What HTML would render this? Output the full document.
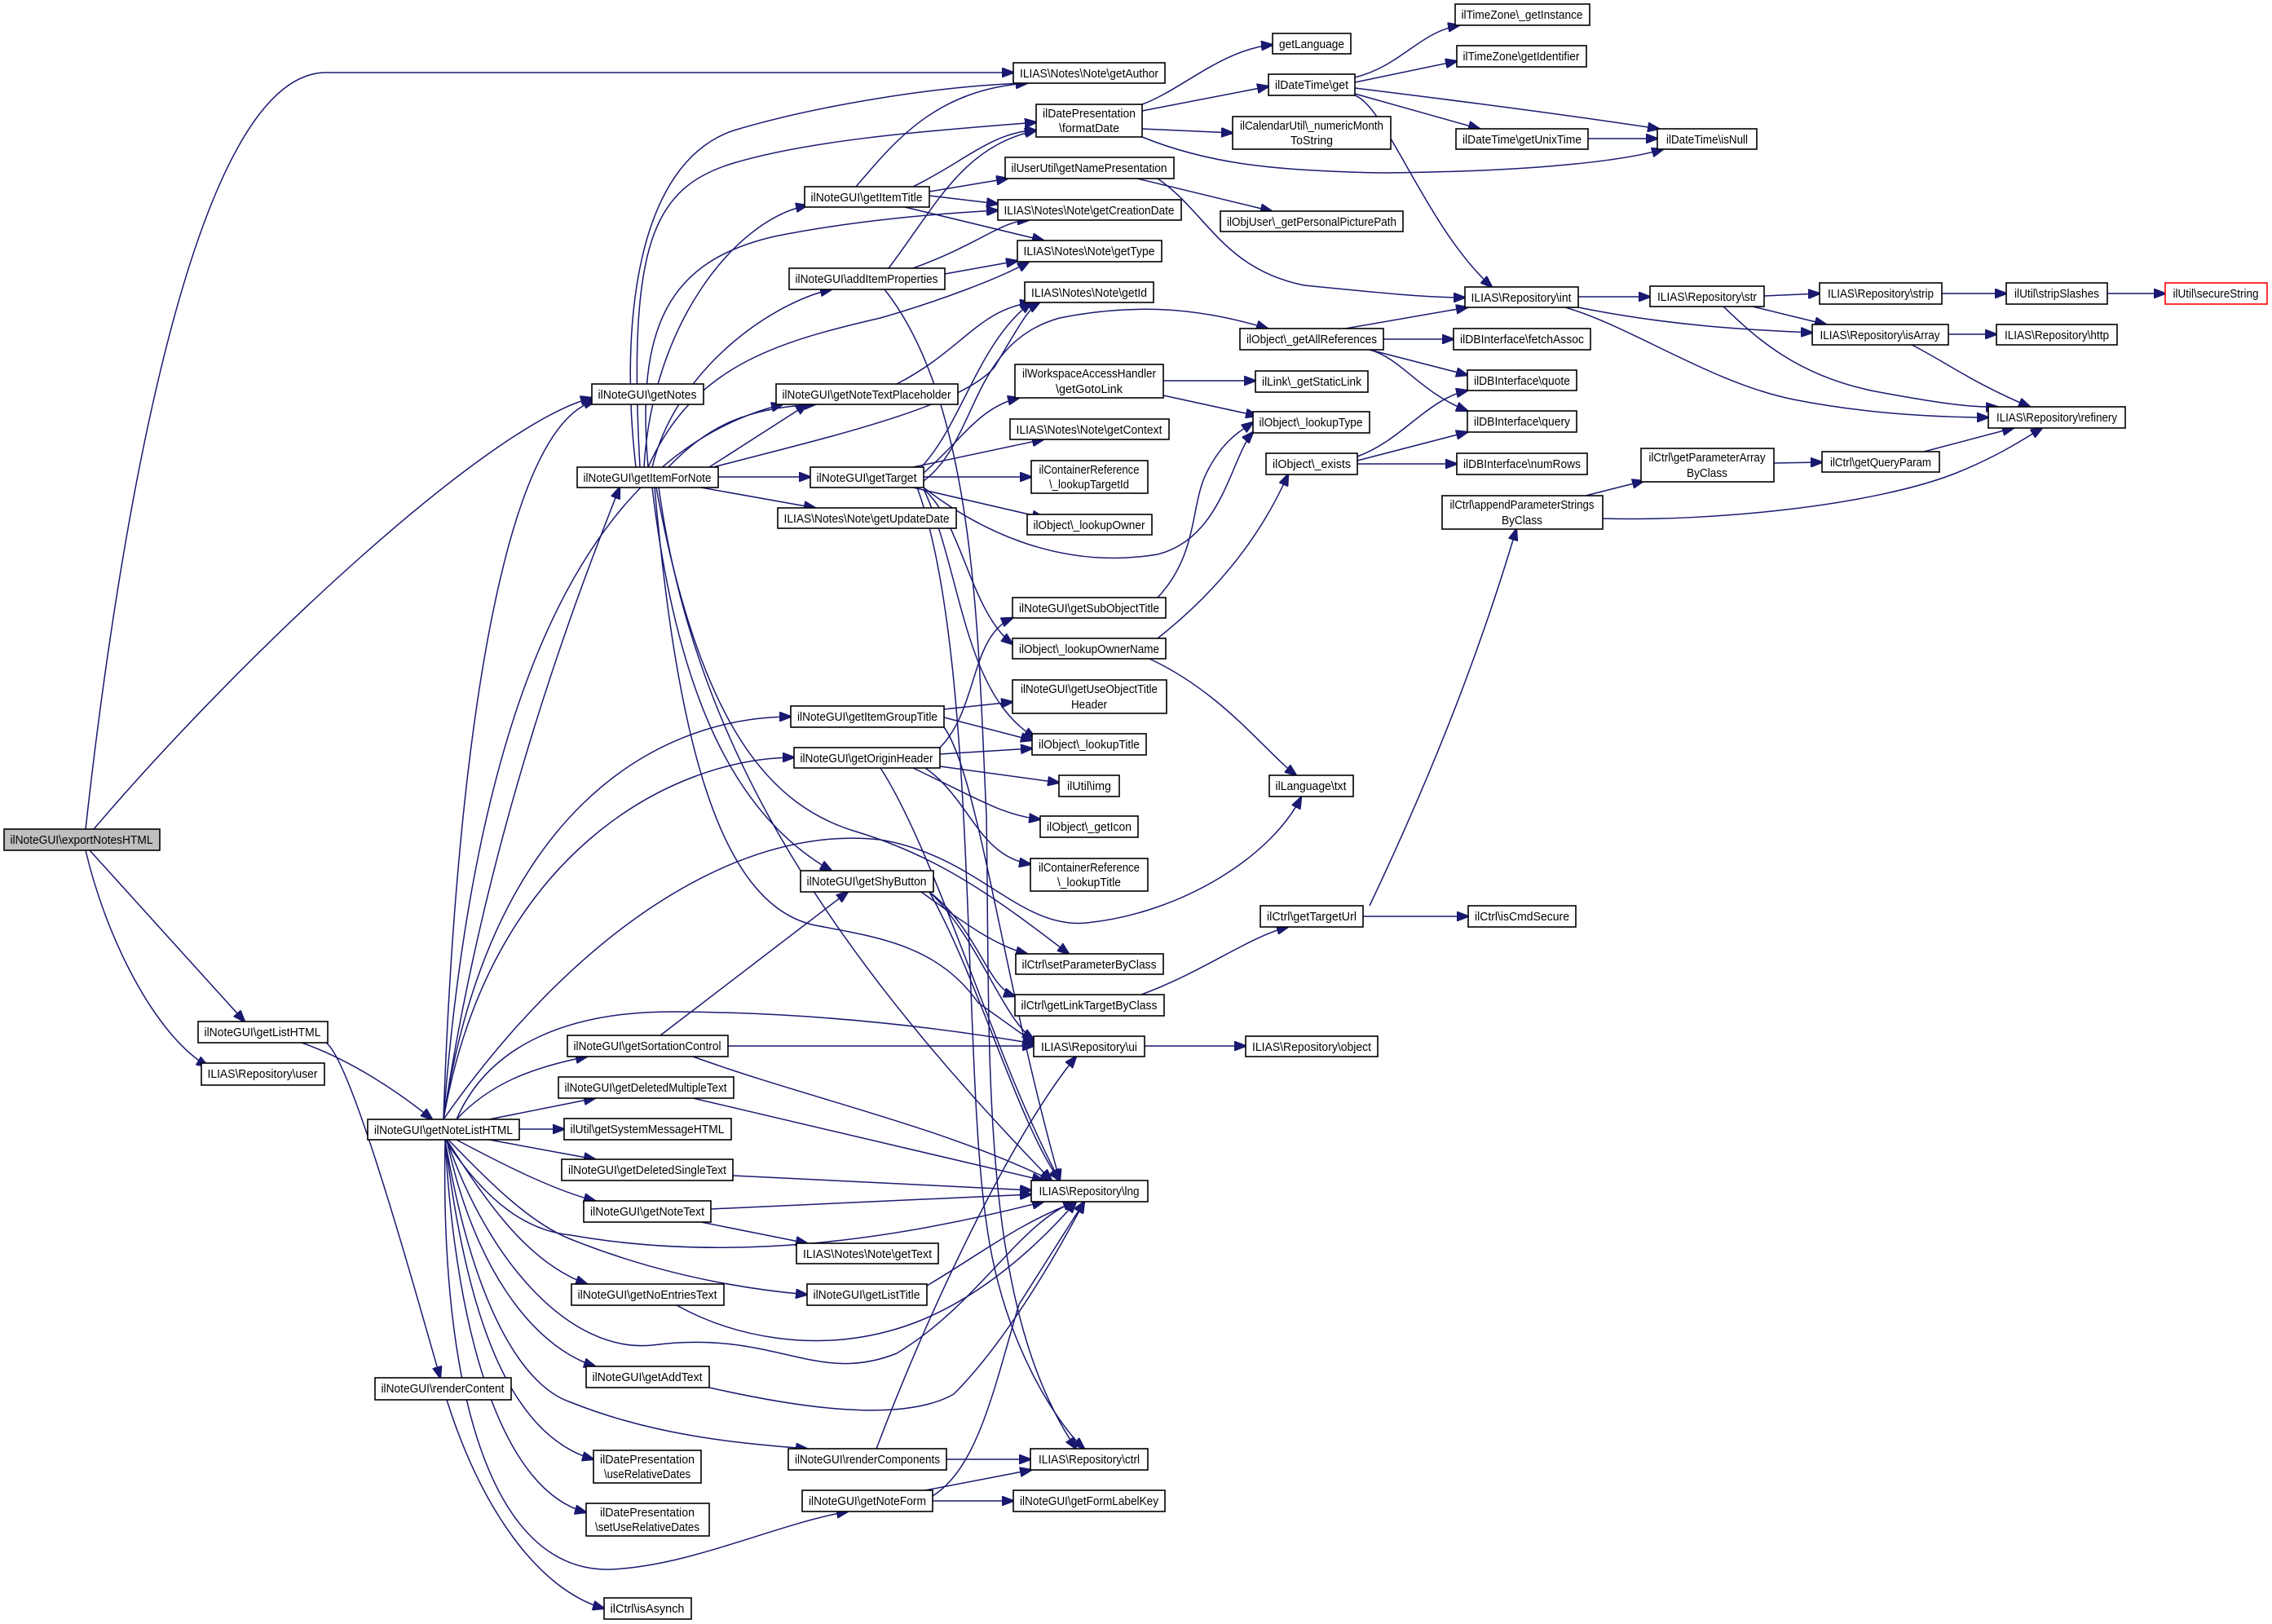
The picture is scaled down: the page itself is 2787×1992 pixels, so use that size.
<!DOCTYPE html>
<html><head><meta charset="utf-8"><style>
html,body{margin:0;padding:0;background:#fff;}
svg{display:block;}
text{font-family:"Liberation Sans",sans-serif;font-size:15px;fill:#000;}
rect{fill:#fff;stroke:#000;stroke-width:1.6;}
path{fill:none;stroke:#191970;stroke-width:1.5;}
</style></head><body>
<svg width="2787" height="1992" viewBox="0 0 2787 1992" xmlns="http://www.w3.org/2000/svg">
<defs><marker id="a" markerWidth="16" markerHeight="12" refX="14" refY="6" orient="auto" markerUnits="userSpaceOnUse"><path d="M0,0 L16,6 L0,12 Z" style="fill:#191970;stroke:#191970;stroke-width:1"/></marker></defs>
<g marker-end="url(#a)">
<path d="M105,1017 C140,700 230,89 400,89 L1243,89"/>
<path d="M115,1017 C300,800 600,520 726,488"/>
<path d="M110,1043 L300,1253"/>
<path d="M105,1043 C130,1150 190,1270 255,1308"/>
<path d="M370,1279 C430,1300 490,1340 530,1373"/>
<path d="M400,1279 C430,1300 500,1550 540,1690"/>
<path d="M548,1717 C590,1850 660,1950 741,1973"/>
<path d="M544,1373 C560,900 620,520 730,492"/>
<path d="M544,1373 C600,1000 720,700 760,598"/>
<path d="M544,1373 C600,1000 800,880 970,879"/>
<path d="M544,1373 C600,1050 820,930 974,929"/>
<path d="M544,1373 C700,1150 900,1010 1080,1030 C1200,1050 1250,1140 1333,1132 C1450,1120 1560,1050 1596,978"/>
<path d="M560,1373 C600,1280 700,1240 829,1241 C1000,1242 1150,1260 1268,1280"/>
<path d="M560,1373 C600,1330 650,1310 720,1296"/>
<path d="M600,1373 L730,1347"/>
<path d="M637,1385 L692,1385"/>
<path d="M600,1398 L730,1422"/>
<path d="M560,1398 C620,1430 680,1460 730,1473"/>
<path d="M550,1398 C600,1450 650,1500 700,1520 C800,1560 900,1580 990,1588"/>
<path d="M548,1398 C600,1480 650,1550 720,1575"/>
<path d="M548,1398 C600,1550 700,1660 800,1650 C950,1630 1000,1700 1100,1660 C1200,1600 1250,1500 1318,1474"/>
<path d="M546,1398 C600,1480 650,1510 700,1515 C900,1550 1100,1520 1280,1474"/>
<path d="M548,1398 C580,1550 650,1650 730,1676"/>
<path d="M546,1398 C570,1600 620,1760 728,1790"/>
<path d="M546,1398 C560,1650 620,1830 719,1855"/>
<path d="M546,1398 C540,1700 600,1930 750,1925 C850,1920 950,1870 1040,1854"/>
<path d="M546,1398 C580,1600 640,1700 700,1720 C800,1760 900,1770 990,1777"/>
<path d="M544,1373 C580,900 700,560 960,496"/>
<path d="M780,573 C760,400 780,200 900,160 C1000,130 1150,105 1260,102"/>
<path d="M785,573 C770,300 800,230 900,200 C1000,170 1150,160 1271,150"/>
<path d="M790,573 C800,400 900,270 990,252"/>
<path d="M800,573 C830,450 950,370 1020,355"/>
<path d="M795,573 C780,400 820,320 950,290 C1050,270 1150,262 1224,258"/>
<path d="M795,573 C850,450 950,420 1080,390 C1150,370 1230,340 1262,321"/>
<path d="M870,573 L990,496"/>
<path d="M820,573 C870,520 920,500 1000,496"/>
<path d="M881,585 L994,585"/>
<path d="M860,598 L1000,623"/>
<path d="M875,573 C1000,540 1180,500 1220,450 C1250,400 1260,380 1275,371"/>
<path d="M800,598 C830,850 900,1000 1020,1068"/>
<path d="M805,598 C860,900 950,990 1050,1020 C1150,1050 1220,1100 1311,1170"/>
<path d="M803,598 C830,900 880,1110 1000,1135 C1080,1150 1150,1160 1200,1230 L1270,1280"/>
<path d="M808,598 C850,900 1000,1150 1290,1448"/>
<path d="M1050,229 C1100,170 1150,110 1260,102"/>
<path d="M1120,229 C1180,200 1220,160 1271,160"/>
<path d="M1140,235 L1236,219"/>
<path d="M1140,240 L1224,250"/>
<path d="M1110,254 L1280,295"/>
<path d="M1090,329 C1150,250 1180,180 1271,160"/>
<path d="M1120,329 C1200,300 1230,270 1262,270"/>
<path d="M1159,336 L1248,320"/>
<path d="M1085,355 C1200,500 1200,800 1210,1000 C1215,1300 1200,1600 1320,1777"/>
<path d="M1395,219 L1560,259"/>
<path d="M1420,219 C1480,260 1500,330 1600,350 C1700,360 1750,365 1797,365"/>
<path d="M1401,128 C1450,110 1500,60 1561,55"/>
<path d="M1401,136 L1556,106"/>
<path d="M1401,158 L1512,163"/>
<path d="M1401,168 C1480,200 1560,210 1700,212 C1900,210 2000,195 2040,183"/>
<path d="M1662,95 C1720,80 1740,40 1790,31"/>
<path d="M1662,101 L1787,75"/>
<path d="M1662,115 L1815,158"/>
<path d="M1662,108 C1800,125 1950,145 2035,158"/>
<path d="M1662,117 C1700,130 1750,280 1830,352"/>
<path d="M1948,170 L2033,170"/>
<path d="M1936,364 L2024,364"/>
<path d="M1936,377 C2050,400 2150,405 2223,408"/>
<path d="M1920,377 C2000,400 2100,470 2200,490 C2300,510 2400,512 2439,512"/>
<path d="M2164,363 L2232,360"/>
<path d="M2150,376 L2240,398"/>
<path d="M2114,376 C2150,410 2200,460 2300,480 C2380,495 2420,500 2450,499"/>
<path d="M2382,360 L2461,360"/>
<path d="M2585,360 L2656,360"/>
<path d="M2390,410 L2449,410"/>
<path d="M2345,423 C2380,440 2420,470 2490,499"/>
<path d="M1650,403 L1800,377"/>
<path d="M1697,416 L1783,416"/>
<path d="M1680,429 L1800,460"/>
<path d="M1680,429 C1720,440 1740,480 1800,504"/>
<path d="M1665,560 C1720,540 1750,490 1800,479"/>
<path d="M1665,565 L1800,530"/>
<path d="M1665,569 L1787,569"/>
<path d="M2176,568 L2235,567"/>
<path d="M2360,554 L2470,525"/>
<path d="M1945,608 L2016,590"/>
<path d="M1966,636 C2100,640 2300,620 2400,580 C2450,560 2480,540 2505,525"/>
<path d="M1680,1111 C1780,900 1830,750 1860,649"/>
<path d="M1672,1124 L1801,1124"/>
<path d="M1400,1220 C1480,1190 1530,1150 1580,1137"/>
<path d="M1404,1283 L1528,1283"/>
<path d="M1420,733 C1470,680 1460,620 1480,580 C1500,540 1520,530 1537,518"/>
<path d="M1420,783 C1500,720 1550,650 1580,582"/>
<path d="M1410,808 C1500,850 1550,920 1590,951"/>
<path d="M1427,467 L1540,467"/>
<path d="M1427,485 L1542,510"/>
<path d="M1130,573 C1180,520 1200,420 1265,371"/>
<path d="M1133,590 C1200,540 1190,420 1300,390 C1400,370 1480,380 1555,403"/>
<path d="M1133,580 C1180,540 1200,500 1250,488"/>
<path d="M1120,573 L1280,539"/>
<path d="M1133,585 L1265,585"/>
<path d="M1120,598 L1280,635"/>
<path d="M1133,598 C1200,650 1300,700 1420,680 C1500,660 1510,560 1537,530"/>
<path d="M1153,917 C1200,870 1190,780 1242,758"/>
<path d="M1133,600 C1180,640 1190,750 1242,790"/>
<path d="M1133,600 C1180,700 1180,850 1270,905"/>
<path d="M1125,598 C1200,800 1180,1300 1210,1500 C1230,1650 1300,1750 1330,1777"/>
<path d="M1100,471 C1180,430 1200,380 1265,371"/>
<path d="M1158,870 L1242,861"/>
<path d="M1158,880 L1266,908"/>
<path d="M1158,892 C1200,950 1230,1200 1300,1448"/>
<path d="M1153,925 L1266,918"/>
<path d="M1153,940 L1299,960"/>
<path d="M1120,942 C1200,980 1230,1000 1276,1005"/>
<path d="M1135,942 C1190,980 1200,1050 1264,1060"/>
<path d="M1080,942 C1150,1050 1220,1300 1300,1448"/>
<path d="M1130,1094 C1180,1130 1220,1160 1260,1170"/>
<path d="M1140,1094 C1200,1140 1210,1210 1245,1222"/>
<path d="M1140,1094 C1200,1150 1230,1250 1268,1275"/>
<path d="M1140,1094 C1200,1200 1250,1380 1300,1448"/>
<path d="M810,1270 L1040,1094"/>
<path d="M893,1283 L1268,1283"/>
<path d="M850,1296 C1000,1350 1150,1380 1290,1448"/>
<path d="M850,1347 L1280,1448"/>
<path d="M899,1442 L1265,1460"/>
<path d="M872,1483 L1265,1465"/>
<path d="M860,1499 L990,1525"/>
<path d="M1137,1577 C1200,1540 1250,1500 1320,1474"/>
<path d="M830,1601 C900,1640 1000,1660 1100,1630 C1200,1600 1280,1520 1320,1474"/>
<path d="M870,1702 C950,1720 1100,1750 1170,1710 C1230,1650 1290,1550 1330,1474"/>
<path d="M1075,1777 C1150,1580 1250,1380 1320,1296"/>
<path d="M1161,1790 L1264,1790"/>
<path d="M1135,1828 L1265,1803"/>
<path d="M1144,1841 L1243,1841"/>
<path d="M1144,1835 C1200,1800 1220,1700 1250,1600 L1330,1474"/>
</g>
<g text-anchor="middle" lengthAdjust="spacingAndGlyphs">
<rect x="5" y="1017" width="191" height="26" style="fill:#bfbfbf"/><text x="100" y="1035" textLength="175" lengthAdjust="spacingAndGlyphs">ilNoteGUI\exportNotesHTML</text>
<rect x="243" y="1253" width="159" height="26"/><text x="322" y="1271" textLength="143" lengthAdjust="spacingAndGlyphs">ilNoteGUI\getListHTML</text>
<rect x="247" y="1304" width="151" height="27"/><text x="322" y="1322" textLength="135" lengthAdjust="spacingAndGlyphs">ILIAS\Repository\user</text>
<rect x="451" y="1373" width="186" height="25"/><text x="544" y="1391" textLength="170" lengthAdjust="spacingAndGlyphs">ilNoteGUI\getNoteListHTML</text>
<rect x="460" y="1690" width="167" height="27"/><text x="543" y="1708" textLength="151" lengthAdjust="spacingAndGlyphs">ilNoteGUI\renderContent</text>
<rect x="741" y="1960" width="107" height="26"/><text x="794" y="1978" textLength="91" lengthAdjust="spacingAndGlyphs">ilCtrl\isAsynch</text>
<rect x="696" y="1270" width="197" height="26"/><text x="794" y="1288" textLength="181" lengthAdjust="spacingAndGlyphs">ilNoteGUI\getSortationControl</text>
<rect x="685" y="1321" width="215" height="26"/><text x="792" y="1339" textLength="199" lengthAdjust="spacingAndGlyphs">ilNoteGUI\getDeletedMultipleText</text>
<rect x="692" y="1372" width="205" height="26"/><text x="794" y="1390" textLength="189" lengthAdjust="spacingAndGlyphs">ilUtil\getSystemMessageHTML</text>
<rect x="689" y="1422" width="210" height="26"/><text x="794" y="1440" textLength="194" lengthAdjust="spacingAndGlyphs">ilNoteGUI\getDeletedSingleText</text>
<rect x="716" y="1473" width="156" height="26"/><text x="794" y="1491" textLength="140" lengthAdjust="spacingAndGlyphs">ilNoteGUI\getNoteText</text>
<rect x="701" y="1575" width="187" height="26"/><text x="794" y="1593" textLength="171" lengthAdjust="spacingAndGlyphs">ilNoteGUI\getNoEntriesText</text>
<rect x="719" y="1676" width="151" height="26"/><text x="794" y="1694" textLength="135" lengthAdjust="spacingAndGlyphs">ilNoteGUI\getAddText</text>
<rect x="728" y="1779" width="132" height="40"/><text x="794" y="1795" textLength="116" lengthAdjust="spacingAndGlyphs">ilDatePresentation</text><text x="794" y="1813" textLength="106" lengthAdjust="spacingAndGlyphs">\useRelativeDates</text>
<rect x="719" y="1844" width="151" height="40"/><text x="794" y="1860" textLength="116" lengthAdjust="spacingAndGlyphs">ilDatePresentation</text><text x="794" y="1878" textLength="128" lengthAdjust="spacingAndGlyphs">\setUseRelativeDates</text>
<rect x="726" y="471" width="137" height="25"/><text x="794" y="489" textLength="121" lengthAdjust="spacingAndGlyphs">ilNoteGUI\getNotes</text>
<rect x="708" y="573" width="173" height="25"/><text x="794" y="591" textLength="157" lengthAdjust="spacingAndGlyphs">ilNoteGUI\getItemForNote</text>
<rect x="987" y="229" width="153" height="25"/><text x="1063" y="247" textLength="137" lengthAdjust="spacingAndGlyphs">ilNoteGUI\getItemTitle</text>
<rect x="968" y="329" width="191" height="26"/><text x="1063" y="347" textLength="175" lengthAdjust="spacingAndGlyphs">ilNoteGUI\addItemProperties</text>
<rect x="952" y="471" width="223" height="25"/><text x="1063" y="489" textLength="207" lengthAdjust="spacingAndGlyphs">ilNoteGUI\getNoteTextPlaceholder</text>
<rect x="994" y="573" width="139" height="25"/><text x="1063" y="591" textLength="123" lengthAdjust="spacingAndGlyphs">ilNoteGUI\getTarget</text>
<rect x="954" y="623" width="219" height="25"/><text x="1063" y="641" textLength="203" lengthAdjust="spacingAndGlyphs">ILIAS\Notes\Note\getUpdateDate</text>
<rect x="970" y="866" width="188" height="26"/><text x="1064" y="884" textLength="172" lengthAdjust="spacingAndGlyphs">ilNoteGUI\getItemGroupTitle</text>
<rect x="974" y="917" width="179" height="25"/><text x="1063" y="935" textLength="163" lengthAdjust="spacingAndGlyphs">ilNoteGUI\getOriginHeader</text>
<rect x="982" y="1068" width="163" height="26"/><text x="1063" y="1086" textLength="147" lengthAdjust="spacingAndGlyphs">ilNoteGUI\getShyButton</text>
<rect x="977" y="1525" width="174" height="25"/><text x="1064" y="1543" textLength="158" lengthAdjust="spacingAndGlyphs">ILIAS\Notes\Note\getText</text>
<rect x="990" y="1575" width="147" height="26"/><text x="1063" y="1593" textLength="131" lengthAdjust="spacingAndGlyphs">ilNoteGUI\getListTitle</text>
<rect x="967" y="1777" width="194" height="26"/><text x="1064" y="1795" textLength="178" lengthAdjust="spacingAndGlyphs">ilNoteGUI\renderComponents</text>
<rect x="984" y="1828" width="160" height="26"/><text x="1064" y="1846" textLength="144" lengthAdjust="spacingAndGlyphs">ilNoteGUI\getNoteForm</text>
<rect x="1243" y="77" width="186" height="25"/><text x="1336" y="95" textLength="170" lengthAdjust="spacingAndGlyphs">ILIAS\Notes\Note\getAuthor</text>
<rect x="1271" y="128" width="130" height="40"/><text x="1336" y="144" textLength="114" lengthAdjust="spacingAndGlyphs">ilDatePresentation</text><text x="1336" y="162" textLength="74" lengthAdjust="spacingAndGlyphs">\formatDate</text>
<rect x="1233" y="193" width="207" height="26"/><text x="1336" y="211" textLength="191" lengthAdjust="spacingAndGlyphs">ilUserUtil\getNamePresentation</text>
<rect x="1224" y="245" width="225" height="25"/><text x="1336" y="263" textLength="209" lengthAdjust="spacingAndGlyphs">ILIAS\Notes\Note\getCreationDate</text>
<rect x="1248" y="295" width="177" height="26"/><text x="1336" y="313" textLength="161" lengthAdjust="spacingAndGlyphs">ILIAS\Notes\Note\getType</text>
<rect x="1257" y="346" width="158" height="25"/><text x="1336" y="364" textLength="142" lengthAdjust="spacingAndGlyphs">ILIAS\Notes\Note\getId</text>
<rect x="1245" y="447" width="182" height="41"/><text x="1336" y="463" textLength="164" lengthAdjust="spacingAndGlyphs">ilWorkspaceAccessHandler</text><text x="1336" y="482" textLength="82" lengthAdjust="spacingAndGlyphs">\getGotoLink</text>
<rect x="1239" y="514" width="195" height="25"/><text x="1336" y="532" textLength="179" lengthAdjust="spacingAndGlyphs">ILIAS\Notes\Note\getContext</text>
<rect x="1265" y="565" width="143" height="40"/><text x="1336" y="581" textLength="123" lengthAdjust="spacingAndGlyphs">ilContainerReference</text><text x="1336" y="599" textLength="98" lengthAdjust="spacingAndGlyphs">\_lookupTargetId</text>
<rect x="1260" y="631" width="153" height="25"/><text x="1336" y="649" textLength="137" lengthAdjust="spacingAndGlyphs">ilObject\_lookupOwner</text>
<rect x="1242" y="733" width="188" height="25"/><text x="1336" y="751" textLength="172" lengthAdjust="spacingAndGlyphs">ilNoteGUI\getSubObjectTitle</text>
<rect x="1242" y="783" width="188" height="25"/><text x="1336" y="801" textLength="172" lengthAdjust="spacingAndGlyphs">ilObject\_lookupOwnerName</text>
<rect x="1242" y="834" width="189" height="41"/><text x="1336" y="850" textLength="168" lengthAdjust="spacingAndGlyphs">ilNoteGUI\getUseObjectTitle</text><text x="1336" y="869" textLength="44" lengthAdjust="spacingAndGlyphs">Header</text>
<rect x="1266" y="900" width="140" height="26"/><text x="1336" y="918" textLength="124" lengthAdjust="spacingAndGlyphs">ilObject\_lookupTitle</text>
<rect x="1299" y="951" width="74" height="26"/><text x="1336" y="969" textLength="54" lengthAdjust="spacingAndGlyphs">ilUtil\img</text>
<rect x="1276" y="1001" width="120" height="26"/><text x="1336" y="1019" textLength="104" lengthAdjust="spacingAndGlyphs">ilObject\_getIcon</text>
<rect x="1264" y="1053" width="144" height="40"/><text x="1336" y="1069" textLength="124" lengthAdjust="spacingAndGlyphs">ilContainerReference</text><text x="1336" y="1087" textLength="78" lengthAdjust="spacingAndGlyphs">\_lookupTitle</text>
<rect x="1246" y="1170" width="181" height="25"/><text x="1336" y="1188" textLength="165" lengthAdjust="spacingAndGlyphs">ilCtrl\setParameterByClass</text>
<rect x="1245" y="1220" width="183" height="26"/><text x="1336" y="1238" textLength="167" lengthAdjust="spacingAndGlyphs">ilCtrl\getLinkTargetByClass</text>
<rect x="1268" y="1271" width="136" height="25"/><text x="1336" y="1289" textLength="118" lengthAdjust="spacingAndGlyphs">ILIAS\Repository\ui</text>
<rect x="1265" y="1448" width="143" height="26"/><text x="1336" y="1466" textLength="123" lengthAdjust="spacingAndGlyphs">ILIAS\Repository\lng</text>
<rect x="1264" y="1777" width="144" height="26"/><text x="1336" y="1795" textLength="124" lengthAdjust="spacingAndGlyphs">ILIAS\Repository\ctrl</text>
<rect x="1243" y="1828" width="186" height="26"/><text x="1336" y="1846" textLength="170" lengthAdjust="spacingAndGlyphs">ilNoteGUI\getFormLabelKey</text>
<rect x="1561" y="41" width="96" height="25"/><text x="1609" y="59" textLength="80" lengthAdjust="spacingAndGlyphs">getLanguage</text>
<rect x="1556" y="91" width="106" height="26"/><text x="1609" y="109" textLength="90" lengthAdjust="spacingAndGlyphs">ilDateTime\get</text>
<rect x="1512" y="143" width="194" height="40"/><text x="1609" y="159" textLength="176" lengthAdjust="spacingAndGlyphs">ilCalendarUtil\_numericMonth</text><text x="1609" y="177" textLength="52" lengthAdjust="spacingAndGlyphs">ToString</text>
<rect x="1497" y="259" width="224" height="25"/><text x="1609" y="277" textLength="208" lengthAdjust="spacingAndGlyphs">ilObjUser\_getPersonalPicturePath</text>
<rect x="1521" y="403" width="176" height="26"/><text x="1609" y="421" textLength="160" lengthAdjust="spacingAndGlyphs">ilObject\_getAllReferences</text>
<rect x="1540" y="455" width="138" height="26"/><text x="1609" y="473" textLength="122" lengthAdjust="spacingAndGlyphs">ilLink\_getStaticLink</text>
<rect x="1537" y="505" width="143" height="26"/><text x="1608" y="523" textLength="127" lengthAdjust="spacingAndGlyphs">ilObject\_lookupType</text>
<rect x="1553" y="556" width="112" height="26"/><text x="1609" y="574" textLength="96" lengthAdjust="spacingAndGlyphs">ilObject\_exists</text>
<rect x="1557" y="951" width="103" height="26"/><text x="1608" y="969" textLength="87" lengthAdjust="spacingAndGlyphs">ilLanguage\txt</text>
<rect x="1546" y="1111" width="126" height="26"/><text x="1609" y="1129" textLength="110" lengthAdjust="spacingAndGlyphs">ilCtrl\getTargetUrl</text>
<rect x="1528" y="1271" width="162" height="25"/><text x="1609" y="1289" textLength="146" lengthAdjust="spacingAndGlyphs">ILIAS\Repository\object</text>
<rect x="1785" y="5" width="165" height="26"/><text x="1867" y="23" textLength="149" lengthAdjust="spacingAndGlyphs">ilTimeZone\_getInstance</text>
<rect x="1787" y="56" width="159" height="26"/><text x="1866" y="74" textLength="143" lengthAdjust="spacingAndGlyphs">ilTimeZone\getIdentifier</text>
<rect x="1786" y="158" width="162" height="25"/><text x="1867" y="176" textLength="146" lengthAdjust="spacingAndGlyphs">ilDateTime\getUnixTime</text>
<rect x="1797" y="352" width="139" height="25"/><text x="1866" y="370" textLength="123" lengthAdjust="spacingAndGlyphs">ILIAS\Repository\int</text>
<rect x="1783" y="403" width="168" height="26"/><text x="1867" y="421" textLength="152" lengthAdjust="spacingAndGlyphs">ilDBInterface\fetchAssoc</text>
<rect x="1800" y="454" width="134" height="25"/><text x="1867" y="472" textLength="118" lengthAdjust="spacingAndGlyphs">ilDBInterface\quote</text>
<rect x="1800" y="504" width="134" height="26"/><text x="1867" y="522" textLength="118" lengthAdjust="spacingAndGlyphs">ilDBInterface\query</text>
<rect x="1787" y="556" width="160" height="26"/><text x="1867" y="574" textLength="144" lengthAdjust="spacingAndGlyphs">ilDBInterface\numRows</text>
<rect x="1769" y="608" width="197" height="41"/><text x="1867" y="624" textLength="177" lengthAdjust="spacingAndGlyphs">ilCtrl\appendParameterStrings</text><text x="1867" y="643" textLength="50" lengthAdjust="spacingAndGlyphs">ByClass</text>
<rect x="1801" y="1111" width="132" height="26"/><text x="1867" y="1129" textLength="116" lengthAdjust="spacingAndGlyphs">ilCtrl\isCmdSecure</text>
<rect x="2033" y="158" width="122" height="25"/><text x="2094" y="176" textLength="100" lengthAdjust="spacingAndGlyphs">ilDateTime\isNull</text>
<rect x="2024" y="351" width="140" height="25"/><text x="2094" y="369" textLength="122" lengthAdjust="spacingAndGlyphs">ILIAS\Repository\str</text>
<rect x="2013" y="550" width="163" height="41"/><text x="2094" y="566" textLength="143" lengthAdjust="spacingAndGlyphs">ilCtrl\getParameterArray</text><text x="2094" y="585" textLength="50" lengthAdjust="spacingAndGlyphs">ByClass</text>
<rect x="2232" y="347" width="150" height="26"/><text x="2307" y="365" textLength="130" lengthAdjust="spacingAndGlyphs">ILIAS\Repository\strip</text>
<rect x="2223" y="398" width="167" height="25"/><text x="2306" y="416" textLength="147" lengthAdjust="spacingAndGlyphs">ILIAS\Repository\isArray</text>
<rect x="2235" y="554" width="144" height="25"/><text x="2307" y="572" textLength="124" lengthAdjust="spacingAndGlyphs">ilCtrl\getQueryParam</text>
<rect x="2461" y="347" width="124" height="26"/><text x="2523" y="365" textLength="104" lengthAdjust="spacingAndGlyphs">ilUtil\stripSlashes</text>
<rect x="2449" y="398" width="148" height="25"/><text x="2523" y="416" textLength="128" lengthAdjust="spacingAndGlyphs">ILIAS\Repository\http</text>
<rect x="2439" y="499" width="168" height="26"/><text x="2523" y="517" textLength="148" lengthAdjust="spacingAndGlyphs">ILIAS\Repository\refinery</text>
<rect x="2656" y="347" width="125" height="26" style="stroke:#ff0000"/><text x="2718" y="365" textLength="105" lengthAdjust="spacingAndGlyphs">ilUtil\secureString</text>
</g>
</svg>
</body></html>
